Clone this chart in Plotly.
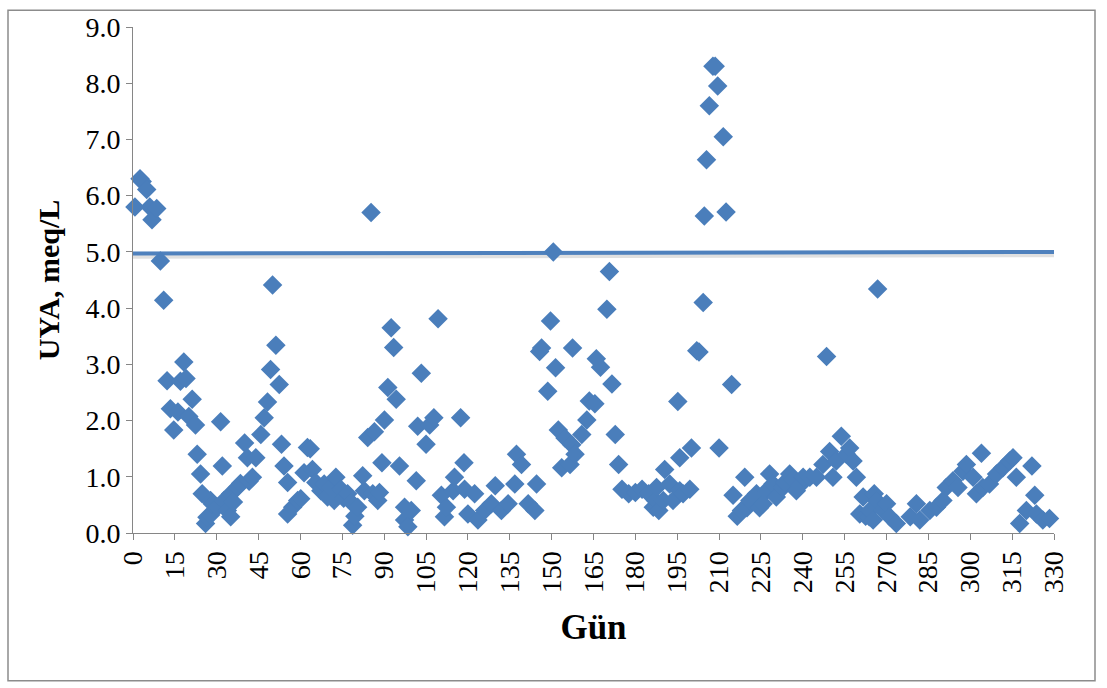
import plotly.graph_objects as go

# Günlük ölçümler: gün ve UYA (meq/L)
gun = [
    0.7, 2.5, 3.3, 4.9, 6.0, 6.8, 8.5, 9.8, 11.0, 12.2, 13.4, 14.6, 16.1, 17.0, 18.2,
    19.0, 20.0, 21.2, 22.4, 23.0, 24.2, 24.8, 26.0, 26.5, 27.8, 27.8, 28.4, 30.2, 31.4,
    32.0, 32.6, 33.8, 35.0, 35.0, 36.0, 37.4, 38.5, 40.0, 41.0, 41.6, 42.8, 44.0, 45.8,
    47.0, 48.2, 49.3, 50.0, 51.2, 52.4, 53.2, 54.1, 55.4, 55.4, 57.2, 59.0, 60.1,
    61.3, 62.5, 63.5, 64.3, 65.5, 67.3, 68.5, 69.7, 70.9, 72.1, 72.7, 74.5, 75.5, 76.9,
    78.1, 78.7, 79.5, 80.5, 82.3, 82.9, 84.1, 85.3, 85.9, 86.5, 87.7, 88.3, 89.2, 90.1,
    91.3, 92.5, 93.4, 94.3, 95.5, 97.3, 97.3, 98.5, 99.7, 101.5, 102.0, 103.3, 105.0,
    106.3, 107.8, 109.3, 110.5, 111.6, 112.3, 114.7, 115.2, 117.4, 118.6, 118.8, 120.0,
    122.4, 123.6, 126.0, 128.4, 129.8, 132.0, 134.4, 136.8, 137.4, 139.2, 141.6, 144.0,
    144.6, 145.7, 146.4, 148.6, 149.6, 150.6, 151.4, 152.4, 153.6, 154.8, 156.6, 157.2,
    157.5, 158.4, 160.8, 162.6, 163.5, 165.5, 166.0, 167.5, 169.8, 170.7, 171.6, 172.8,
    174.0, 175.2, 177.6, 180.0, 182.4, 184.8, 186.4, 187.2, 187.6, 188.4, 190.0, 190.5,
    192.3, 193.5, 195.2, 195.9, 195.9, 197.1, 199.5, 200.1, 202.0, 202.8, 204.3, 204.7,
    205.5, 206.5, 207.8, 208.6, 209.5, 210.0, 211.5, 212.5, 214.5, 215.0, 216.5, 218.0,
    219.2, 220.0, 221.0, 223.4, 224.5, 225.8, 227.0, 228.1, 229.3, 230.5, 232.9, 233.5,
    235.3, 236.5, 237.7, 239.0, 240.1, 242.5, 244.9, 247.2, 248.5, 249.6, 250.8, 252.0,
    253.8, 255.6, 256.8, 258.0, 259.2, 260.4, 261.6, 262.5, 263.8, 264.0, 265.2, 265.6,
    266.4, 266.8, 268.7, 270.0, 271.1, 273.5, 278.5, 280.7, 281.9, 285.5, 287.9, 290.2,
    291.4, 293.8, 295.6, 297.4, 298.6, 301.0, 302.2, 304.0, 304.5, 306.9, 309.4, 311.7,
    314.1, 315.3, 316.5, 317.7, 320.1, 322.1, 323.1, 323.7, 326.0, 328.4,
]
uya = [
    5.80, 6.30, 6.25, 6.11, 5.80, 5.57, 5.77, 4.84, 4.14, 2.71, 2.21, 1.83, 2.15, 2.70, 3.04,
    2.75, 2.07, 2.38, 1.92, 1.40, 1.05, 0.70, 0.17, 0.28, 0.58, 0.32, 0.52, 0.46, 1.98,
    1.19, 0.58, 0.40, 0.70, 0.29, 0.55, 0.81, 0.88, 1.60, 1.34, 0.92, 0.99, 1.34, 1.75,
    2.05, 2.33, 2.91, 4.41, 3.34, 2.64, 1.58, 1.19, 0.90, 0.34, 0.46, 0.58, 0.61,
    1.07, 1.52, 1.50, 1.13, 0.90, 0.75, 0.87, 0.64, 0.81, 0.58, 0.99, 0.78, 0.62, 0.70,
    0.55, 0.14, 0.30, 0.46, 1.02, 0.75, 1.70, 5.70, 0.70, 1.80, 0.58, 0.72, 1.25, 2.01,
    2.59, 3.65, 3.30, 2.38, 1.19, 0.46, 0.23, 0.11, 0.40, 0.93, 1.90, 2.84, 1.58,
    1.92, 2.05, 3.81, 0.67, 0.29, 0.46, 0.75, 0.99, 2.05, 1.25, 0.78, 0.34,
    0.70, 0.23, 0.40, 0.52, 0.84, 0.40, 0.52, 0.87, 1.40, 1.22, 0.52, 0.40,
    0.87, 3.23, 3.29, 2.52, 3.77, 5.00, 2.94, 1.83, 1.16, 1.69, 1.22, 1.57,
    3.29, 1.40, 1.75, 2.01, 2.35, 2.30, 3.10, 2.95, 3.98, 4.65, 2.65, 1.75,
    1.22, 0.78, 0.70, 0.72, 0.78, 0.70, 0.46, 0.58, 0.81, 0.40, 0.58, 1.13,
    0.87, 0.58, 2.34, 1.34, 0.75, 0.70, 0.78, 1.51, 3.24, 3.22, 4.10, 5.64,
    6.64, 7.60, 8.30, 8.30, 7.95, 1.51, 7.05, 5.71, 2.64, 0.67, 0.30, 0.40,
    0.99, 0.45, 0.58, 0.70, 0.45, 0.52, 0.75, 1.05, 0.87, 0.64, 0.81, 0.90,
    1.05, 0.95, 0.75, 0.85, 0.99, 0.99, 0.99, 1.22, 3.14, 1.45, 0.99, 1.28,
    1.72, 1.40, 1.51, 1.28, 0.99, 0.34, 0.64, 0.30, 0.29, 0.40, 0.23, 0.70,
    0.58, 4.34, 0.40, 0.52, 0.29, 0.17, 0.29, 0.52, 0.23, 0.40, 0.46, 0.58,
    0.81, 0.93, 0.81, 1.10, 1.22, 0.99, 0.70, 1.42, 0.81, 0.87, 1.05, 1.16,
    1.28, 1.34, 0.99, 0.17, 0.40, 1.19, 0.67, 0.34, 0.23, 0.26,
]

# Sınır değer çizgisi
sinir_gun = [0, 330]
sinir_uya = [4.97, 5.00]

x_ticks = list(range(0, 331, 15))
y_ticks = [0, 1, 2, 3, 4, 5, 6, 7, 8, 9]

mavi = "#4A7EBB"
yazi = dict(family="Liberation Serif", color="black")

fig = go.Figure()

# çizginin altındaki hafif gölge
fig.add_trace(go.Scatter(
    x=sinir_gun, y=[v - 0.04 for v in sinir_uya], mode="lines",
    line=dict(color="rgba(0,0,0,0.12)", width=6),
    hoverinfo="skip", showlegend=False,
))
fig.add_trace(go.Scatter(
    x=sinir_gun, y=sinir_uya, mode="lines",
    line=dict(color="#4F81BD", width=4),
    showlegend=False,
))
fig.add_trace(go.Scatter(
    x=gun, y=uya, mode="markers", cliponaxis=False,
    marker=dict(symbol="diamond", size=15, color=mavi, line=dict(width=0)),
    showlegend=False,
))

eksen = dict(
    showline=True, linecolor="#868686", linewidth=1,
    ticks="outside", tickcolor="#868686", ticklen=6, tickwidth=1,
    showgrid=False, zeroline=False,
    tickfont=dict(size=28, **yazi),
)

fig.update_layout(
    width=1107, height=688,
    margin=dict(l=133, r=53, t=19, b=155),
    paper_bgcolor="white", plot_bgcolor="white",
    xaxis=dict(
        range=[0, 330], tickvals=x_ticks, tickangle=-90,
        title=dict(text="<b>Gün</b>", font=dict(size=35, **yazi), standoff=22),
        **eksen,
    ),
    yaxis=dict(
        range=[0, 9], tickvals=y_ticks, tickformat=".1f",
        title=dict(text="<b>UYA, meq/L</b>", font=dict(size=30, **yazi), standoff=16),
        **eksen,
    ),
    shapes=[dict(
        type="rect", xref="paper", yref="paper",
        x0=(8 - 133) / 921, x1=(1095 - 133) / 921,
        y0=(533 - 683) / 514, y1=(533 - 2) / 514,
        line=dict(color="#8c8c8c", width=1.5), fillcolor="rgba(0,0,0,0)",
        layer="below",
    )],
)

fig.write_html("out.html")
